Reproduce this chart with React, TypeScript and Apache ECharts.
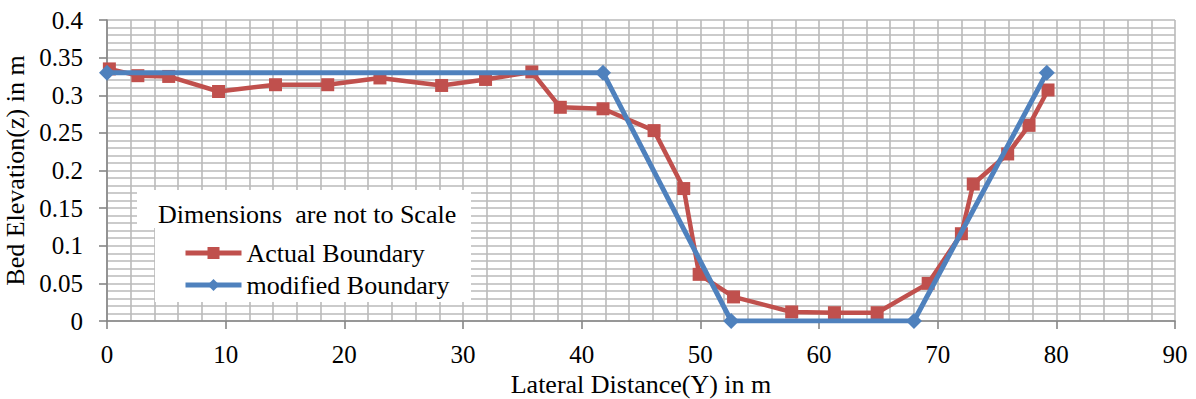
import React, { useEffect, useRef } from "react";
import * as echarts from "echarts";

const actualX = [0.2, 2.6, 5.2, 9.4, 14.2, 18.6, 23.0, 28.2, 31.9, 35.8, 38.2, 41.8, 46.1, 48.6, 49.9, 52.8, 57.7, 61.3, 64.9, 69.2, 72.0, 73.0, 75.9, 77.7, 79.3];
const actualY = [0.335, 0.326, 0.325, 0.305, 0.314, 0.314, 0.323, 0.313, 0.321, 0.331, 0.284, 0.282, 0.253, 0.176, 0.062, 0.032, 0.012, 0.011, 0.011, 0.05, 0.116, 0.182, 0.222, 0.26, 0.307];
const modX = [0, 41.8, 52.6, 68.0, 79.2];
const modY = [0.33, 0.33, 0, 0, 0.33];

const seriesNames = ["Actual Boundary", "modified Boundary"];
const noteText = "Dimensions  are not to Scale";
const xTitle = "Lateral Distance(Y) in m";
const yTitle = "Bed Elevation(z) in m";

export default function App() {
  const ref = useRef<HTMLDivElement>(null);
  useEffect(() => {
    if (!ref.current) return;
    const chart = echarts.init(ref.current, null, { renderer: "svg" });
    const font = "Liberation Serif";
    const gridLine = { show: true, lineStyle: { color: "#bababa", width: 1.6 } };
    const axisLineStyle = { color: "#868686", width: 1.6 };
    chart.setOption({
      animation: false,
      backgroundColor: "#ffffff",
      textStyle: { fontFamily: font },
      grid: { left: 107, right: 21, top: 20, bottom: 78, containLabel: false, outerBoundsMode: "none" },
      xAxis: {
        type: "value",
        min: 0,
        max: 90,
        interval: 10,
        name: xTitle,
        nameLocation: "middle",
        nameGap: 48,
        nameTextStyle: { fontFamily: font, fontSize: 26, color: "#000" },
        axisLine: { show: true, onZero: false, lineStyle: axisLineStyle },
        axisTick: { show: true, length: 8, lineStyle: axisLineStyle },
        axisLabel: { fontFamily: font, fontSize: 25, color: "#000", margin: 21 },
        splitLine: gridLine,
        minorTick: { show: false, splitNumber: 5 },
        minorSplitLine: gridLine,
      },
      yAxis: {
        type: "value",
        min: 0,
        max: 0.4,
        interval: 0.05,
        name: yTitle,
        nameLocation: "middle",
        nameGap: 74,
        nameTextStyle: { fontFamily: font, fontSize: 26, color: "#000" },
        axisLine: { show: true, lineStyle: axisLineStyle },
        axisTick: { show: true, length: 8, lineStyle: axisLineStyle },
        axisLabel: { fontFamily: font, fontSize: 25, color: "#000", margin: 24 },
        splitLine: gridLine,
        minorTick: { show: false, splitNumber: 5 },
        minorSplitLine: gridLine,
      },
      legend: {
        orient: "vertical",
        left: 183,
        top: 240,
        padding: 0,
        z: 300,
        itemGap: 6,
        itemWidth: 56,
        itemHeight: 15,
        itemTextGap: 5,
        lineStyle: { width: 5 },
        textStyle: { fontFamily: font, fontSize: 26, color: "#000" },
        data: seriesNames,
      },
      graphic: [
        { type: "rect", z: 100, shape: { x: 137, y: 190, width: 334, height: 38 }, style: { fill: "#fff" } },
        { type: "rect", z: 100, shape: { x: 155, y: 228, width: 316, height: 74 }, style: { fill: "#fff" } },
        {
          type: "text",
          z: 101,
          x: 158,
          y: 214,
          style: { text: noteText, fontFamily: font, fontSize: 26, fill: "#000", verticalAlign: "middle", align: "left" },
        },
      ],
      series: [
        {
          name: seriesNames[0],
          type: "line",
          data: actualX.map((x, i) => [x, actualY[i]]),
          symbol: "rect",
          symbolSize: 13,
          itemStyle: { color: "#C0504D" },
          lineStyle: { color: "#C0504D", width: 4.5 },
          z: 3,
        },
        {
          name: seriesNames[1],
          type: "line",
          data: modX.map((x, i) => [x, modY[i]]),
          symbol: "diamond",
          symbolSize: 16,
          itemStyle: { color: "#4F81BD" },
          lineStyle: { color: "#4F81BD", width: 5 },
          z: 4,
        },
      ],
    });
    return () => chart.dispose();
  }, []);
  return (
    <div
      ref={ref}
      style={{ position: "absolute", left: 0, top: 0, width: 1196, height: 399 }}
    />
  );
}
